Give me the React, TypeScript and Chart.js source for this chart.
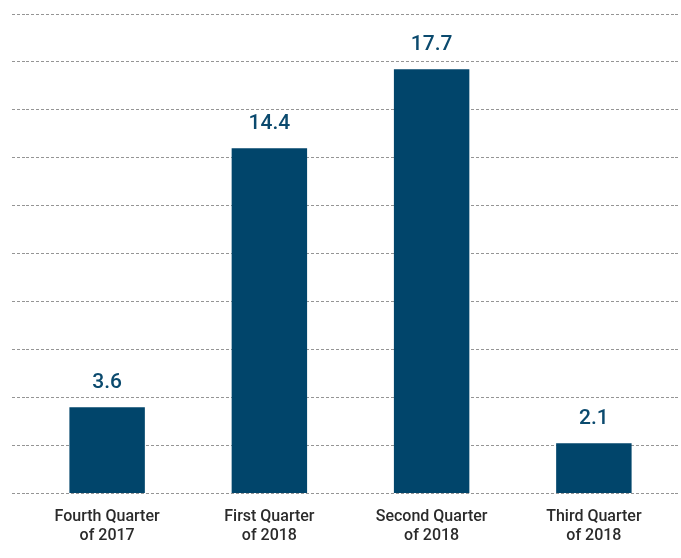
import React, { useEffect, useRef } from "react";
import { Chart, registerables } from "chart.js";

Chart.register(...registerables);

const categories: string[][] = [
  ["Fourth Quarter", "of 2017"],
  ["First Quarter", "of 2018"],
  ["Second Quarter", "of 2018"],
  ["Third Quarter", "of 2018"],
];
const values: number[] = [3.6, 14.4, 17.7, 2.1];
const yMin = 0;
const yMax = 20;
const yStep = 2;

const BAR = "#01456b";
const LABEL = "#0b4a6e";
const GRID = "#959595";

const valueLabels = {
  id: "valueLabels",
  afterDatasetsDraw(chart: any) {
    const ctx = chart.ctx;
    const meta = chart.getDatasetMeta(0);
    ctx.save();
    ctx.font = "500 21px Roboto";
    ctx.fillStyle = LABEL;
    ctx.textAlign = "center";
    ctx.textBaseline = "alphabetic";
    meta.data.forEach((el: any, i: number) => {
      ctx.fillText(values[i].toFixed(1), el.x, el.y - 19.5);
    });
    ctx.restore();
  },
};

export default function App() {
  const ref = useRef<HTMLCanvasElement>(null);
  useEffect(() => {
    if (!ref.current) return;
    const gridOpts = {
      color: GRID,
      lineWidth: 1,
      tickBorderDash: [3, 2],
      tickColor: GRID,
      tickWidth: 1,
    };
    const chart = new Chart(ref.current, {
      type: "bar",
      data: {
        labels: categories,
        datasets: [
          {
            data: values,
            backgroundColor: BAR,
            categoryPercentage: 1,
            barPercentage: 0.465,
          },
        ],
      },
      options: {
        animation: false,
        responsive: false,
        maintainAspectRatio: false,
        layout: { padding: { left: 12, right: 2, top: 14, bottom: 6 } },
        plugins: {
          legend: { display: false },
          tooltip: { enabled: false },
        },
        scales: {
          x: {
            grid: { display: false },
            border: { display: false },
            ticks: {
              color: "#2b2b2b",
              font: { family: "Roboto", size: 16, weight: "500", lineHeight: 1.2 },
              padding: 6,
              maxRotation: 0,
            },
          },
          y: {
            position: "left",
            min: yMin,
            max: yMax,
            ticks: { display: false, stepSize: yStep },
            border: { display: false, dash: [3, 2] },
            grid: { ...gridOpts, drawTicks: true, tickLength: 14 },
          },
          y2: {
            position: "right",
            min: yMin,
            max: yMax,
            ticks: { display: false, stepSize: yStep },
            border: { display: false, dash: [3, 2] },
            grid: { ...gridOpts, drawOnChartArea: false, drawTicks: true, tickLength: 4 },
          },
        },
      } as any,
      plugins: [valueLabels],
    });
    return () => chart.destroy();
  }, []);
  return (
    <div style={{ position: "fixed", left: 0, top: 0, width: 681, height: 558, background: "#fff" }}>
      <canvas ref={ref} width={681} height={558} style={{ width: 681, height: 558 }} />
    </div>
  );
}
